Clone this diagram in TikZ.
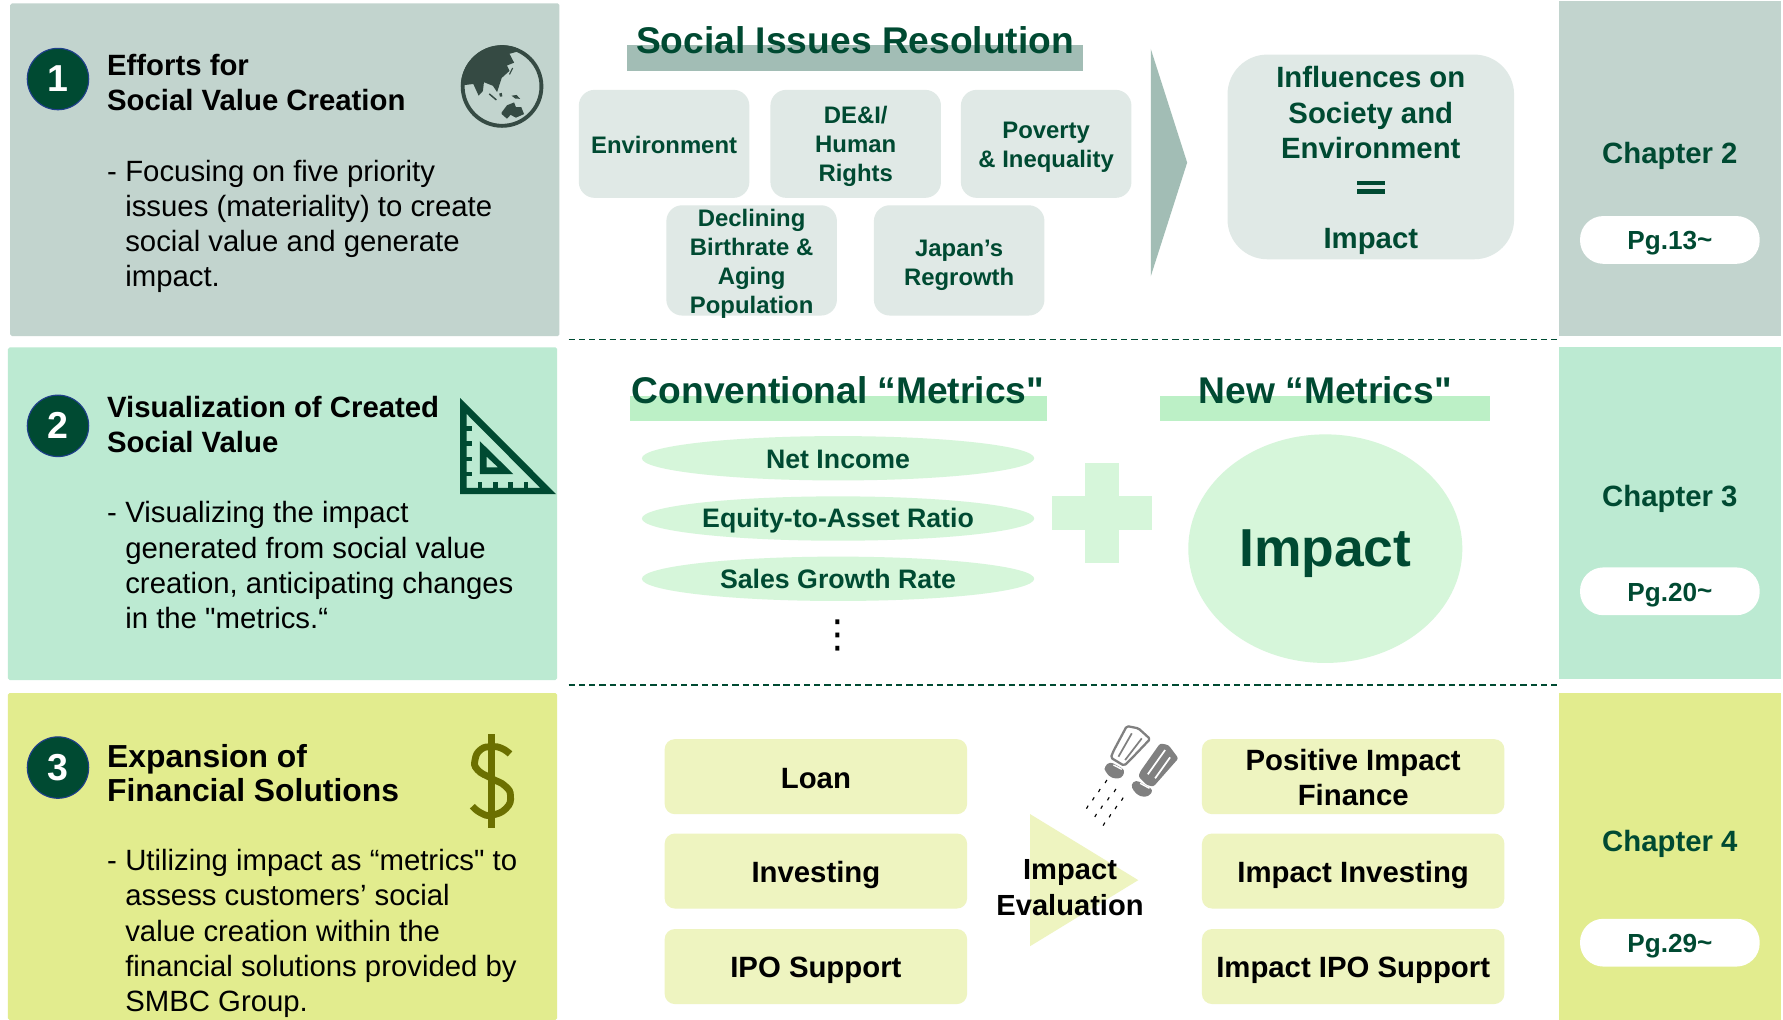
\documentclass[tikz,border=0pt]{standalone}
\usepackage{fontspec}
\setmainfont{Liberation Sans}
\newfontfamily\plainq{Liberation Sans}
\newfontfamily\dejavu{DejaVu Sans}
\definecolor{dkgreen}{HTML}{004A32}
\definecolor{panelA}{HTML}{C2D4CE}
\definecolor{panelB}{HTML}{BCEAD2}
\definecolor{panelC}{HTML}{E2EC8E}
\definecolor{softA}{HTML}{E0E9E6}
\definecolor{softB}{HTML}{D6F6DA}
\definecolor{softC}{HTML}{EEF4C0}
\definecolor{barA}{HTML}{A2BDB5}
\definecolor{barB}{HTML}{BCF0C6}
\definecolor{globe}{HTML}{354A43}
\definecolor{olive}{HTML}{6B7000}
\definecolor{ringblue}{HTML}{1F3F8A}
\definecolor{shaker}{HTML}{808080}
\newcommand{\fs}[2]{\fontsize{#1}{#2}\selectfont}
\newcommand{\sq}{{\plainq\char34}}
\newcommand{\boxtext}[4]{\node[#2] (#1t) at ([yshift=-#3pt]#1.center) {#4};}
\tikzset{
  panel/.style={fill=#1,draw=none,rounded corners=1.5pt},
  numdisc/.style={circle,fill=dkgreen,draw=ringblue,line width=1pt,minimum size=54pt,inner sep=0pt,text=white,font=\bfseries\fs{33}{33}},
  headtext/.style={anchor=west,align=left,inner sep=0pt,font=\bfseries\fs{25.8}{31},text=black},
  bodytext/.style={anchor=west,align=left,inner sep=0pt,font=\fs{25.8}{31},text=black},
  softbox/.style={rectangle,rounded corners=14pt,fill=softA,inner sep=0pt},
  softlabel/.style={align=center,inner sep=0pt,text=dkgreen,font=\bfseries\fs{21}{25.5}},
  yellowbox/.style={rectangle,rounded corners=9pt,fill=softC,inner sep=0pt,minimum width=266pt,minimum height=66pt},
  yellowlabel/.style={align=center,inner sep=0pt,text=black,font=\bfseries\fs{25.8}{31}},
  metric/.style={ellipse,fill=softB,minimum width=345pt,minimum height=39pt,inner sep=0pt},
  metriclabel/.style={inner sep=0pt,text=dkgreen,font=\bfseries\fs{23.5}{26}},
  bigtitle/.style={inner sep=0pt,text=dkgreen,font=\bfseries\fs{32.7}{36}},
  chaptertext/.style={inner sep=0pt,text=dkgreen,font=\bfseries\fs{25.8}{30}},
  pill/.style={rectangle,rounded corners=20.5pt,fill=white,minimum width=158pt,minimum height=42pt,inner sep=0pt},
  pilllabel/.style={inner sep=0pt,text=dkgreen,font=\bfseries\fs{23}{26}},
  divider/.style={dkgreen,line width=1.6pt,dash pattern=on 5.5pt off 3.5pt},
}
\usetikzlibrary{shapes.geometric}
\begin{document}
\begin{tikzpicture}[x=1pt,y=-1pt]
\useasboundingbox (0,0) rectangle (1568,897);
\fill[white] (0,0) rectangle (1568,897);

% left panels
\fill[panel=panelA] (9,3) rectangle (492,295.5);
\fill[panel=panelB] (7,305.5) rectangle (490,598);
\fill[panel=panelC] (7,609.5) rectangle (490,897);
% right column
\fill[panelA] (1371,1) rectangle (1566,295.5);
\fill[panelB] (1371,305.5) rectangle (1566,597);
\fill[panelC] (1371,609.5) rectangle (1566,897);

% dividers
\coordinate (d1a) at (500,298.5); \coordinate (d1b) at (1370,298.5);
\coordinate (d2a) at (500,602.5); \coordinate (d2b) at (1370,602.5);
\draw[divider] (d1a) -- (d1b);
\draw[divider] (d2a) -- (d2b);

% numbered discs
\node[numdisc] (n1) at (51,69.5) {1};
\node[numdisc] (n2) at (51,374.5) {2};
\node[numdisc] (n3) at (51,675) {3};

% panel text
\node[headtext] (h1) at (94,72.5) {Efforts for\\Social Value Creation};
\node[bodytext] (b1) at (110,199) {\llap{-\hspace{7.5pt}}Focusing on five priority\\issues (materiality) to create\\social value and generate\\impact.};
\node[headtext] (h2) at (94,373.5) {Visualization of Created\\Social Value};
\node[bodytext] (b2) at (110,497) {\llap{-\hspace{7.5pt}}Visualizing the impact\\generated from social value\\creation, anticipating changes\\in the \sq metrics.“};
\node[headtext,font=\bfseries\fs{28}{30.5}] (h3) at (94,680) {Expansion of\\Financial Solutions};
\node[bodytext] (b3) at (110,821) {\llap{-\hspace{7.5pt}}Utilizing impact as “metrics\sq\ to\\assess customers’ social\\value creation within the\\financial solutions provided by\\SMBC Group.};

% globe icon
\begin{scope}[shift={(394.4,28.6)},x=0.312pt,y=-0.312pt]
\begin{scope}
\clip (151,152) circle (116);
\fill[globe] (20,20) -- (190,20) -- (190,55) -- (172,60) -- (185,85) -- (165,93) -- (172,108) -- (150,128) -- (137,168) -- (125,150) -- (100,140) -- (97,165) -- (85,178) -- (70,145) -- (30,150) -- cycle;
\end{scope}
\fill[globe] (150,225) -- (165,205) -- (185,197) -- (190,210) -- (205,210) -- (213,230) -- (190,240) -- (175,232) -- (165,243) -- (150,230) -- cycle;
\fill[globe] (178,178) -- (192,176) -- (202,187) -- (188,186) -- cycle;
\fill[globe] (143,172) -- (150,170) -- (152,180) -- (145,181) -- cycle;
\draw[globe,line width=1.3pt] (115,173) -- (135,190);
\draw[globe,line width=1pt] (181,100) -- (172,118);
\draw[globe,line width=3.4pt] (151,152) circle (111);
\end{scope}

% set square icon
\fill[dkgreen,even odd rule]
  (404.6,350) -- (489,434.5) -- (404.6,434.5) -- cycle
  (410.4,364) -- (475,429) -- (410.4,429) -- cycle;
\fill[dkgreen,even odd rule]
  (422,388) -- (451.5,417) -- (422,417) -- cycle
  (428,401.6) -- (438,411) -- (428,411) -- cycle;
\foreach \ty in {376.7,390,403.7,417}
  \fill[dkgreen] (410,\ty-1.9) rectangle (415,\ty+1.9);
\foreach \tx in {422,435.7,449,462.6}
  \fill[dkgreen] (\tx-1.9,424) rectangle (\tx+1.9,430);

% dollar icon
\fill[olive] (429.5,645.8) rectangle (435.3,728);
\draw[olive,line width=6pt] plot[smooth,tension=0.85] coordinates {(448.5,663) (441,658) (432.4,656.7) (423,659) (417.8,668) (420,677) (432.4,684.6) (444,691) (449,700) (445,711) (432.4,716.8) (423,715) (415.4,709)};

% section 1 content
\fill[barA] (551,40) rectangle (952,62);
\node[bigtitle] (t1) at (752,35) {Social Issues Resolution};
\node[softbox,minimum width=150pt,minimum height=95pt] (env) at (584,126.5) {};
\boxtext{env}{softlabel}{1}{Environment}
\node[softbox,minimum width=150pt,minimum height=95pt] (dei) at (752.5,126.5) {};
\boxtext{dei}{softlabel}{2.5}{DE\&I/\\Human\\Rights}
\node[softbox,minimum width=150pt,minimum height=95pt] (pov) at (920,126.5) {};
\boxtext{pov}{softlabel}{3}{Poverty\\\&\ Inequality}
\node[softbox,minimum width=150pt,minimum height=97pt] (dec) at (661,229) {};
\boxtext{dec}{softlabel}{3}{Declining\\Birthrate \&\\Aging\\Population}
\node[softbox,minimum width=150pt,minimum height=97pt] (jap) at (843.5,229) {};
\boxtext{jap}{softlabel}{4}{Japan’s\\Regrowth}
\fill[barA] (1012,43) -- (1044,143) -- (1012,243) -- cycle;
\node[softbox,rounded corners=35pt,minimum width=252pt,minimum height=180pt] (inf) at (1205.5,138) {};
\node[inner sep=0pt,align=center,text=dkgreen,font=\bfseries\fs{25.8}{31}] (inft) at (1205.5,99) {Influences on\\Society and\\Environment};
\node[inner sep=0pt,text=dkgreen,font=\bfseries\fs{25.8}{31}] (infi) at (1205.5,212) {Impact};
\fill[dkgreen] (1193,159.2) rectangle (1218,162.7);
\fill[dkgreen] (1193,166.5) rectangle (1218,170.2);

% section 2 content
\fill[barB] (554,348) rectangle (921,370);
\fill[barB] (1020,348) rectangle (1310,370);
\node[bigtitle] (t2) at (737,343) {Conventional “Metrics\sq};
\node[bigtitle] (t3) at (1165.5,343) {New “Metrics\sq};
\node[metric] (m1) at (737,403) {};
\boxtext{m1}{metriclabel}{1}{Net Income}
\node[metric] (m2) at (737,456) {};
\boxtext{m2}{metriclabel}{2}{Equity-to-Asset Ratio}
\node[metric] (m3) at (737,509) {};
\boxtext{m3}{metriclabel}{0}{Sales Growth Rate}
\node[inner sep=0pt,text=black,font=\dejavu\fs{34}{34}] (vd) at (736.5,559) {⋮};
\fill[softB] (954,407) rectangle (984,495);
\fill[softB] (925,436) rectangle (1013,466);
\node[ellipse,fill=softB,minimum width=241pt,minimum height=201pt,inner sep=0pt] (imp) at (1165.5,482.5) {};
\boxtext{imp}{metriclabel,font=\bfseries\fs{47}{50}}{4}{Impact}

% section 3 content
\node[yellowbox] (y1) at (717.5,683) {};
\boxtext{y1}{yellowlabel}{2}{Loan}
\node[yellowbox] (y2) at (717.5,766) {};
\boxtext{y2}{yellowlabel}{3.5}{Investing}
\node[yellowbox] (y3) at (717.5,850) {};
\boxtext{y3}{yellowlabel}{3}{IPO Support}
\node[yellowbox] (y4) at (1190,683) {};
\boxtext{y4}{yellowlabel}{1}{Positive Impact\\Finance}
\node[yellowbox] (y5) at (1190,766) {};
\boxtext{y5}{yellowlabel}{3.5}{Impact Investing}
\node[yellowbox] (y6) at (1190,850) {};
\boxtext{y6}{yellowlabel}{3}{Impact IPO Support}
\fill[softC] (906,716) -- (1001,774) -- (906,832) -- cycle;
\node[inner sep=0pt,align=center,text=black,font=\bfseries\fs{25.6}{31}] (ev) at (941,780.5) {Impact\\Evaluation};

% shakers
\begin{scope}[shift={(949.9,628.8)},x=0.293pt,y=-0.293pt]
\draw[shaker,line width=2pt,line join=round,fill=white,rounded corners=1.5pt] (140,33) -- (175,40) -- (210,72) -- (150,135) -- (132,152) -- (92,128) -- (100,108) -- cycle;
\draw[shaker,line width=1.5pt] (155,55) -- (115,125);
\draw[shaker,line width=1.5pt] (185,70) -- (135,135);
\fill[shaker,rounded corners=3pt] (72,155) -- (90,140) -- (135,165) -- (125,190) -- (95,190) -- (75,170) -- cycle;
\draw[white,line width=1.2pt] (100,150) -- (125,163);
\fill[shaker,rounded corners=2pt] (240,85) -- (265,90) -- (295,130) -- (220,215) -- (200,210) -- (175,185) -- (180,170) -- cycle;
\draw[white,line width=1.5pt] (255,105) -- (203,178);
\draw[white,line width=1.5pt] (270,127) -- (225,190);
\fill[shaker,rounded corners=3pt] (152,208) -- (168,195) -- (220,225) -- (205,245) -- (180,245) -- (160,228) -- cycle;
\draw[white,line width=1.2pt] (180,205) -- (208,220);
\foreach \ax/\ay in {80/195,60/222,42/247,24/272,107/222,87/247,67/272,49/297,129/248,110/273,92/298,74/323}
  \draw[black,line width=1pt] (\ax,\ay) -- (\ax-5,\ay+9);
\end{scope}

% chapters
\node[chaptertext] (c1) at (1468.5,137) {Chapter 2};
\node[pill] (p1) at (1468.5,211) {};
\boxtext{p1}{pilllabel}{2.5}{Pg.13\raisebox{1pt}{\char`\~}}
\node[chaptertext] (c2) at (1468.5,438.5) {Chapter 3};
\node[pill] (p2) at (1468.5,520) {};
\boxtext{p2}{pilllabel}{3}{Pg.20\raisebox{1pt}{\char`\~}}
\node[chaptertext] (c3) at (1468.5,742) {Chapter 4};
\node[pill] (p3) at (1468.5,829) {};
\boxtext{p3}{pilllabel}{3}{Pg.29\raisebox{1pt}{\char`\~}}
\end{tikzpicture}
\end{document}
